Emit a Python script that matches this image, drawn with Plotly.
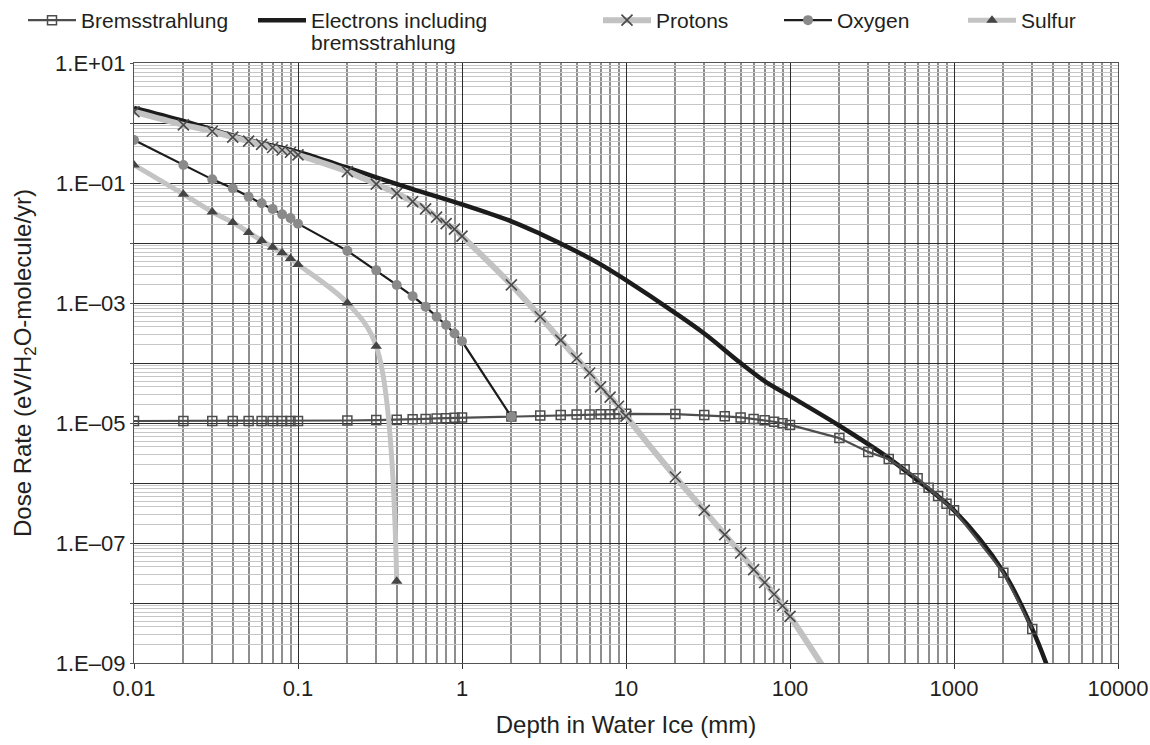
import plotly.graph_objects as go

# ---------------- data ----------------
brems_x = [0.01, 0.02, 0.03, 0.04, 0.05, 0.06, 0.07, 0.08, 0.09,
           0.1, 0.2, 0.3, 0.4, 0.5, 0.6, 0.7, 0.8, 0.9,
           1, 2, 3, 4, 5, 6, 7, 8, 9,
           10, 20, 30, 40, 50, 60, 70, 80, 90,
           100, 200, 300, 400, 500, 600, 700, 800, 900,
           1000, 2000, 3000]
brems_y = [1.08e-5, 1.08e-5, 1.08e-5, 1.08e-5, 1.08e-5, 1.08e-5, 1.08e-5, 1.08e-5, 1.08e-5,
           1.08e-5, 1.10e-5, 1.12e-5, 1.13e-5, 1.15e-5, 1.17e-5, 1.19e-5, 1.20e-5, 1.22e-5,
           1.23e-5, 1.28e-5, 1.33e-5, 1.36e-5, 1.38e-5, 1.39e-5, 1.40e-5, 1.40e-5, 1.41e-5,
           1.42e-5, 1.41e-5, 1.36e-5, 1.29e-5, 1.24e-5, 1.17e-5, 1.11e-5, 1.05e-5, 9.9e-6,
           9.3e-6, 5.6e-6, 3.3e-6, 2.5e-6, 1.7e-6, 1.2e-6, 8.3e-7, 6.1e-7, 4.5e-7,
           3.5e-7, 3.2e-8, 3.7e-9]

elec_x = [0.01, 0.02, 0.05, 0.1, 0.2, 0.3, 0.5, 1, 2, 3, 5, 7, 10, 20, 30, 50, 70,
          100, 200, 400, 600, 1000, 2000, 3000, 4000]
elec_y = [1.78, 1.08, 0.52, 0.33, 0.18, 0.124, 0.079, 0.044, 0.023, 0.0142, 0.0072,
          0.0044, 0.0024, 6.8e-4, 3.1e-4, 1.0e-4, 5.0e-5,
          2.8e-5, 9.0e-6, 2.6e-6, 1.1e-6, 3.5e-7, 3.3e-8, 3.7e-9, 5.0e-10]

prot_x = [0.01, 0.02, 0.03, 0.04, 0.05, 0.06, 0.07, 0.08, 0.09,
          0.1, 0.2, 0.3, 0.4, 0.5, 0.6, 0.7, 0.8, 0.9,
          1, 2, 3, 4, 5, 6, 7, 8, 9,
          10, 20, 30, 40, 50, 60, 70, 80, 90,
          100, 200]
prot_y = [1.54, 0.93, 0.73, 0.58, 0.50, 0.44, 0.39, 0.355, 0.325,
          0.295, 0.155, 0.096, 0.067, 0.049, 0.037, 0.027, 0.021, 0.017,
          0.013, 2.0e-3, 5.9e-4, 2.4e-4, 1.2e-4, 6.8e-5, 4.0e-5, 2.7e-5, 1.9e-5,
          1.3e-5, 1.26e-6, 3.5e-7, 1.38e-7, 6.8e-8, 3.6e-8, 2.2e-8, 1.4e-8, 9.0e-9,
          6.0e-9, 3.3e-10]

oxy_x = [0.01, 0.02, 0.03, 0.04, 0.05, 0.06, 0.07, 0.08, 0.09,
         0.1, 0.2, 0.3, 0.4, 0.5, 0.6, 0.7, 0.8, 0.9,
         1, 2]
oxy_y = [0.52, 0.20, 0.115, 0.082, 0.059, 0.046, 0.037, 0.030, 0.026,
         0.021, 7.4e-3, 3.5e-3, 2.0e-3, 1.3e-3, 8.7e-4, 5.9e-4, 4.3e-4, 3.1e-4,
         2.3e-4, 1.27e-5]

sulf_x = [0.01, 0.02, 0.03, 0.04, 0.05, 0.06, 0.07, 0.08, 0.09, 0.1, 0.2, 0.3, 0.4]
sulf_y = [0.20, 0.065, 0.033, 0.022, 0.015, 0.011, 8.5e-3, 6.9e-3, 5.5e-3, 4.4e-3,
          1.0e-3, 1.9e-4, 2.3e-8]

x_tickvals = [0.01, 0.1, 1, 10, 100, 1000, 10000]
x_ticktext = ["0.01", "0.1", "1", "10", "100", "1000", "10000"]
y_exponents = list(range(-9, 2))
y_ticktext = [("1.E+%02d" % e if e >= 0 else "1.E\u2013%02d" % (-e)) if e % 2 != 0 else ""
              for e in y_exponents]

# ---------------- figure ----------------
FONT = "Liberation Sans, Arial, Helvetica, sans-serif"
TXT = "#231f20"
W, H = 1150, 745
PL, PR, PT, PB = 134, 1118, 63, 663   # plot area in pixels
ITEMW = 48

fig = go.Figure()

fig.add_trace(go.Scatter(
    x=elec_x, y=elec_y, name="Electrons including", mode="lines",
    line=dict(color="#1c1c1c", width=4.5, shape="spline"), legend="legend2", showlegend=True))

fig.add_trace(go.Scatter(
    x=brems_x, y=brems_y, name="Bremsstrahlung", mode="lines+markers",
    line=dict(color="#4d4d4d", width=2.2),
    marker=dict(symbol="square-open", size=9, color="#4d4d4d", line=dict(width=1.5)),
    legend="legend", showlegend=True))

fig.add_trace(go.Scatter(
    x=prot_x, y=prot_y, name="Protons", mode="lines+markers",
    line=dict(color="#c2c2c2", width=6, shape="spline"),
    marker=dict(symbol="x-thin-open", size=11, color="#4a4a4a", line=dict(width=1.6, color="#4a4a4a")),
    legend="legend3", showlegend=True))

fig.add_trace(go.Scatter(
    x=oxy_x, y=oxy_y, name="Oxygen", mode="lines+markers",
    line=dict(color="#1c1c1c", width=2.2),
    marker=dict(symbol="circle", size=10, color="#8a8a8a"),
    legend="legend4", showlegend=True))

fig.add_trace(go.Scatter(
    x=sulf_x, y=sulf_y, name="Sulfur", mode="lines+markers",
    line=dict(color="#c4c4c4", width=5, shape="spline"),
    marker=dict(symbol="triangle-up", size=10, color="#444444"),
    legend="legend5", showlegend=True))

def leg(text_px):
    xpx = text_px - ITEMW - 10
    return dict(x=xpx / W, y=1.0, xref="container", yref="container",
                xanchor="left", yanchor="top", orientation="h", valign="top",
                itemwidth=ITEMW,
                font=dict(family=FONT, size=21, color=TXT), bgcolor="rgba(0,0,0,0)")

minor_x = [k * 10.0 ** e for e in range(-2, 4) for k in range(2, 10)]
minor_y = [k * 10.0 ** e for e in range(-9, 1) for k in range(2, 10)]

fig.update_layout(
    width=W, height=H,
    margin=dict(l=PL, r=W - PR, t=PT, b=H - PB),
    paper_bgcolor="white", plot_bgcolor="white",
    showlegend=True,
    font=dict(family=FONT, size=21, color=TXT),
    legend=leg(81), legend2=leg(311), legend3=leg(656), legend4=leg(837), legend5=leg(1021),
    annotations=[dict(text="bremsstrahlung", xref="paper", yref="paper",
                      x=(309 - PL) / (PR - PL), y=(PB - 43) / (PB - PT),
                      xanchor="left", yanchor="middle", showarrow=False,
                      font=dict(family=FONT, size=21, color=TXT))],
    xaxis=dict(
        type="log", range=[-2, 4], automargin=False,
        tickmode="array", tickvals=x_tickvals, ticktext=x_ticktext,
        ticks="outside", ticklen=5, tickcolor="#333", tickwidth=1.2,
        showgrid=True, gridcolor="#2b2b2b", gridwidth=1.4,
        showline=True, linecolor="#555", linewidth=1.4, mirror=True,
        minor=dict(tickvals=minor_x, showgrid=True, gridcolor="#8e8e8e", gridwidth=1.6, ticks=""),
        tickfont=dict(size=22, color=TXT),
        title=dict(text="Depth in Water Ice (mm)", font=dict(size=24, color=TXT), standoff=16),
        zeroline=False),
    yaxis=dict(
        type="log", range=[-9, 1], automargin=False,
        tickmode="array", tickvals=[10.0 ** e for e in y_exponents], ticktext=y_ticktext,
        ticks="outside", ticklen=3, tickcolor="#555", tickwidth=1.2,
        showgrid=True, gridcolor="#2b2b2b", gridwidth=1.4,
        showline=True, linecolor="#555", linewidth=1.4, mirror=True,
        minor=dict(tickvals=minor_y, showgrid=True, gridcolor="#c6c6c6", gridwidth=1.2, ticks=""),
        tickfont=dict(size=22, color=TXT),
        title=dict(text="Dose Rate (eV/H<sub>2</sub>O-molecule/yr)", font=dict(size=24, color=TXT), standoff=16),
        zeroline=False),
)

fig.write_html("out.html")
